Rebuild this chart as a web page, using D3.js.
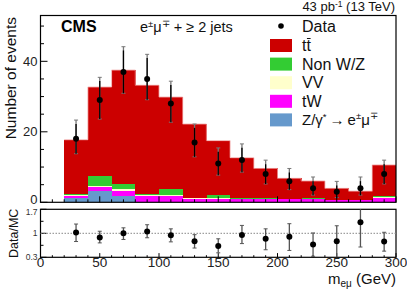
<!DOCTYPE html>
<html><head><meta charset="utf-8">
<script src="https://cdn.jsdelivr.net/npm/d3@7"></script>
<style>
body{margin:0;background:#fff;}
svg{display:block;font-family:"Liberation Sans",Arial,sans-serif;}
</style></head><body>
<svg id="c" width="407" height="292"></svg>
<script>
const binLow   = [20,40,60,80,100,120,140,160,180,200,220,240,260,280];
const binWidth = 20;
const ttbar = [15.5,25.1,32.2,30.9,26.0,20.9,15.5,11.5,8.5,5.9,4.7,3.2,2.4,8.7];
const nonWZ = [0.1,3.0,1.6,0.2,1.9,0.1,0.8,0.2,0.2,0.05,0.5,0.05,0.1,0.5];
const vv    = [0.3,0.4,0.4,0.4,0.3,0.3,0.2,0.1,0.1,0.05,0.05,0.1,0.05,0.3];
const tW    = [0.65,1.0,1.5,1.6,1.6,0.9,1.0,0.85,0.8,0.8,0.8,0.6,0.6,1.1];
const dy    = [1.2,3.2,1.8,0.1,0.05,0,0,0,0,0,0,0,0,0];
const dataCounts = [18,29,37,35,28,17,11,12,8,6,4,3,4,8];
const ratio   = [1.02,0.88,1.0,1.05,0.94,0.77,0.63,0.95,0.84,0.90,0.67,0.77,1.32,0.76];
const ratioHi = [1.27,1.06,1.16,1.25,1.13,0.96,0.84,1.23,1.13,1.28,1.01,1.22,1.75,1.03];
const ratioLo = [0.76,0.72,0.82,0.87,0.75,0.57,0.43,0.70,0.52,0.50,0.33,0.28,0.60,0.48];
const xTicksMajor = [0,50,100,150,200,250,300];
const yTicksMain = [0,20,40];
const yTicksRatio = [0.3,1,1.7];

const seriesNames = ["Z/γ*","tW","VV","Non W/Z","tt̄"];
const seriesColors = ["#6699cc","#ff00ff","#ffffcc","#33cc33","#cc0000"];
const seriesArrays = [dy,tW,vv,nonWZ,ttbar];

const svg = d3.select("#c");
const L=40.5, R=396, T=15.5, B=202.3, RT=209.3, RB=257.3;
const x = d3.scaleLinear().domain([0,300]).range([L,R]);
const y = d3.scaleLinear().domain([0,53]).range([B,T]);
const yr = d3.scaleLinear().domain([0.3,1.7]).range([RB,RT]);

// stacked histogram
const rows = binLow.map((b,i)=>{const o={b}; seriesNames.forEach((n,k)=>o[n]=seriesArrays[k][i]); return o;});
const stack = d3.stack().keys(seriesNames)(rows);
stack.forEach((layer,k)=>{
  svg.append("g").selectAll("rect").data(layer).join("rect")
    .attr("x",d=>x(d.data.b)).attr("width",x(binWidth)-x(0)+0.3)
    .attr("y",d=>y(d[1])).attr("height",d=>Math.max(0,y(d[0])-y(d[1])))
    .attr("fill",seriesColors[k]).attr("shape-rendering","crispEdges");
});
const tot = stack[stack.length-1];
const line = d3.line().curve(d3.curveStepAfter);
const pts = tot.map(d=>[x(d.data.b),y(d[1])]); pts.push([x(300),y(tot[tot.length-1][1])]);
svg.append("path").attr("d",line(pts)).attr("fill","none").attr("stroke","#f0a0a0").attr("stroke-width",0.8);

// data points
const dataG = svg.append("g");
binLow.forEach((b,i)=>{
  const n=dataCounts[i], cx=x(b+binWidth/2);
  const up=n+1+Math.sqrt(n+0.75), lo=n-Math.sqrt(Math.max(n-0.25,0));
  dataG.append("line").attr("x1",cx).attr("x2",cx).attr("y1",y(lo)).attr("y2",Math.max(y(up),T)).attr("stroke","#777").attr("stroke-width",1.3);
  [up,lo].forEach(v=>{ if(y(v)>=T) dataG.append("line").attr("x1",cx-2).attr("x2",cx+2).attr("y1",y(v)).attr("y2",y(v)).attr("stroke","#777").attr("stroke-width",1);});
  dataG.append("line").attr("x1",cx).attr("x2",cx).attr("y1",y(n-Math.sqrt(n))).attr("y2",y(n+Math.sqrt(n))).attr("stroke","#000").attr("stroke-width",1.3);
  dataG.append("circle").attr("cx",cx).attr("cy",y(n)).attr("r",3).attr("fill","#000");
});

// frames
svg.append("rect").attr("x",L).attr("y",T).attr("width",R-L).attr("height",B-T).attr("fill","none").attr("stroke","#000").attr("stroke-width",1.2);
svg.append("rect").attr("x",L).attr("y",RT).attr("width",R-L).attr("height",RB-RT).attr("fill","none").attr("stroke","#000").attr("stroke-width",1.2);

// axes ticks
const tg = svg.append("g").attr("stroke","#000").attr("stroke-width",1);
d3.range(0,301,10).forEach(v=>{
  const len = v%50===0?6:3;
  tg.append("line").attr("x1",x(v)).attr("x2",x(v)).attr("y1",B).attr("y2",B-len);
  tg.append("line").attr("x1",x(v)).attr("x2",x(v)).attr("y1",RB).attr("y2",RB-len*0.7);
});
d3.range(0,53,5).forEach(v=>{
  const len = v%20===0?7:3.5;
  tg.append("line").attr("x1",L).attr("x2",L+len).attr("y1",y(v)).attr("y2",y(v));
});
[0.3,0.65,1,1.35,1.7].forEach((v,i)=>{
  const len = i%2===0?6:3;
  tg.append("line").attr("x1",L).attr("x2",L+len).attr("y1",yr(v)).attr("y2",yr(v));
});
// tick labels
svg.append("g").selectAll("text").data(yTicksMain).join("text")
  .attr("x",L-3).attr("y",d=>y(d)+(d===0?1.8:4.5)).attr("text-anchor","end").attr("font-size",13).attr("fill","#222").text(d=>d);
svg.append("g").selectAll("text").data(yTicksRatio).join("text")
  .attr("x",L-3).attr("y",d=>yr(d)+(d===1.7?5.5:3)).attr("text-anchor","end").attr("font-size",8.5).attr("fill","#333").text(d=>d);
svg.append("g").selectAll("text").data(xTicksMajor).join("text")
  .attr("x",d=>x(d)).attr("y",267).attr("text-anchor","middle").attr("font-size",13.5).attr("fill","#222").text(d=>d);

// ratio line at 1
svg.append("line").attr("x1",L).attr("x2",R).attr("y1",yr(1)).attr("y2",yr(1)).attr("stroke","#888").attr("stroke-dasharray","1.5,1.5").attr("stroke-width",1);
// ratio points
const rg = svg.append("g");
binLow.forEach((b,i)=>{
  const cx=x(b+binWidth/2);
  const hi=Math.min(ratioHi[i],1.7), lo=Math.max(ratioLo[i],0.3);
  rg.append("line").attr("x1",cx).attr("x2",cx).attr("y1",yr(lo)).attr("y2",yr(hi)).attr("stroke","#555").attr("stroke-width",1.3);
  [[hi,ratioHi[i]],[lo,ratioLo[i]]].forEach(([v,raw])=>{ if(v===raw) rg.append("line").attr("x1",cx-2).attr("x2",cx+2).attr("y1",yr(v)).attr("y2",yr(v)).attr("stroke","#555").attr("stroke-width",1);});
  rg.append("circle").attr("cx",cx).attr("cy",yr(ratio[i])).attr("r",3).attr("fill","#000");
});

// titles
svg.append("text").attr("transform","translate(16,17) rotate(-90)").attr("text-anchor","end").attr("font-size",15.5).attr("fill","#111").text("Number of events");
svg.append("text").attr("transform",`translate(18,${(RT+RB)/2}) rotate(-90)`).attr("text-anchor","middle").attr("font-size",12.5).attr("fill","#111").text("Data/MC");
const xt = svg.append("text").attr("x",R).attr("y",284).attr("text-anchor","end").attr("font-size",15).attr("fill","#111");
xt.append("tspan").text("m");
xt.append("tspan").attr("font-size",10).attr("dy",3).text("eμ");
xt.append("tspan").attr("dy",-3).text(" (GeV)");

const lumi = svg.append("text").attr("x",395).attr("y",11).attr("text-anchor","end").attr("font-size",13).attr("fill","#111");
lumi.append("tspan").text("43 pb");
lumi.append("tspan").attr("font-size",8.5).attr("dy",-4).text("-1");
lumi.append("tspan").attr("dy",4).text(" (13 TeV)");

svg.append("text").attr("x",61).attr("y",32).attr("font-size",16).attr("font-weight","bold").attr("fill","#000").text("CMS");
const ch = svg.append("text").attr("x",140).attr("y",32).attr("font-size",14.5).attr("fill","#111");
ch.append("tspan").text("e");
ch.append("tspan").attr("font-size",9.5).attr("dy",-5.5).text("±");
ch.append("tspan").attr("dy",5.5).text("μ");
ch.append("tspan").attr("font-size",9.5).attr("dy",-5.5).text("∓");
ch.append("tspan").attr("dy",5.5).text(" + ≥ 2 jets");

// legend
const lg = svg.append("g");
lg.append("circle").attr("cx",281).attr("cy",26).attr("r",2.8).attr("fill","#000");
lg.append("text").attr("x",302).attr("y",31.5).attr("font-size",16).attr("fill","#111").text("Data");
const legOrder=[4,3,2,1,0];
legOrder.forEach((k,j)=>{
  const top=39+j*18.6;
  lg.append("rect").attr("x",270).attr("y",top).attr("width",22).attr("height",13).attr("fill",seriesColors[k]);
  const t=lg.append("text").attr("x",302).attr("y",top+12).attr("font-size",k===0?15:16).attr("fill","#111");
  if(k===4){
    t.text("tt");
    const w=t.node().getComputedTextLength();
    lg.append("line").attr("x1",302+w/2+0.5).attr("x2",302+w-0.3).attr("y1",top-0.5).attr("y2",top-0.5).attr("stroke","#111").attr("stroke-width",1);
  } else if(k===0){
    t.append("tspan").text("Z/γ");
    t.append("tspan").attr("font-size",9.5).attr("dy",-5).text("*");
    t.append("tspan").attr("dy",5).text("\u2009→\u2009e");
    t.append("tspan").attr("font-size",9.5).attr("dy",-6).text("±");
    t.append("tspan").attr("dy",6).text("μ");
    t.append("tspan").attr("font-size",9.5).attr("dy",-6).text("∓");
  } else t.text(seriesNames[k]);
});
</script></body></html>
